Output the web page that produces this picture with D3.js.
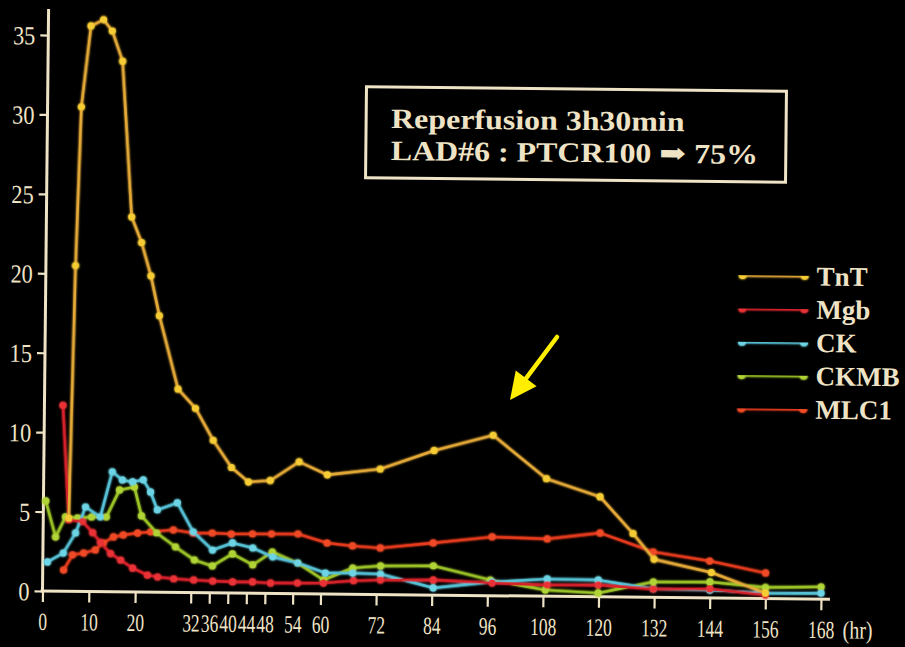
<!DOCTYPE html>
<html>
<head>
<meta charset="utf-8">
<script src="https://cdn.jsdelivr.net/npm/d3@7/dist/d3.min.js"></script>
<style>
  html, body { margin: 0; padding: 0; background: #000; }
  svg { display: block; }
</style>
</head>
<body>
<div id="chart"></div>
<script>
// Serum markers after reperfusion (hours after onset)
const tntHours  = [5.5, 6.4, 7.3, 9.2, 11.9, 13.8, 16.1, 18.4, 20.6, 22.7, 24.6, 28.8, 32.6, 36.5, 40.5, 44.2, 48.9, 55.1, 61.2, 72.6, 84.2, 96.9, 108.5, 120.1, 127.3, 131.9, 144.3, 156];
const tntValues = [4.6, 20.5, 30.5, 35.6, 36.0, 35.3, 33.4, 23.6, 22.0, 19.9, 17.4, 12.8, 11.6, 9.6, 7.9, 7.0, 7.1, 8.3, 7.5, 7.9, 9.1, 10.1, 7.4, 6.3, 4.0, 2.4, 1.6, 0.35];

const mgbHours  = [4.0, 5.5, 8.5, 10.7, 12.4, 14.6, 16.8, 19.4, 22.6, 24.8, 28.3, 32.6, 36.7, 41, 45.3, 49.2, 55, 60.6, 67.1, 72.9, 84.3, 97, 108.9, 119.9, 131.8, 144, 156];
const mgbValues = [11.7, 4.5, 4.4, 3.7, 3.1, 2.4, 2.0, 1.5, 1.07, 0.96, 0.85, 0.79, 0.74, 0.70, 0.71, 0.65, 0.67, 0.69, 0.85, 0.91, 0.95, 0.8, 0.71, 0.75, 0.53, 0.57, 0.23];

const ckHours  = [1.0, 4.4, 7.0, 9.1, 12.3, 14.8, 17.0, 19.2, 21.5, 23.1, 24.6, 28.9, 32.4, 36.6, 40.9, 45.3, 49.6, 55, 61, 66.9, 72.9, 84.3, 97, 108.9, 119.9, 131.8, 144, 156, 168];
const ckValues = [1.83, 2.4, 3.67, 5.32, 4.7, 7.55, 7.04, 6.93, 7.06, 6.3, 5.18, 5.64, 3.82, 2.69, 3.15, 2.85, 2.29, 1.93, 1.32, 1.33, 1.29, 0.45, 0.87, 1.09, 1.06, 0.53, 0.5, 0.33, 0.37];

const ckmbHours  = [0.5, 2.7, 4.8, 7.4, 10.4, 13.6, 16.4, 19.6, 21.2, 24.5, 28.6, 32.7, 36.6, 40.9, 45.3, 49.5, 55, 60.6, 66.9, 72.9, 84.3, 96.6, 108.5, 119.9, 131.8, 144, 156, 168];
const ckmbValues = [5.67, 3.41, 4.68, 4.62, 4.69, 4.7, 6.41, 6.61, 4.79, 3.73, 2.86, 2.05, 1.69, 2.46, 1.78, 2.61, 1.93, 0.88, 1.65, 1.8, 1.84, 0.99, 0.39, 0.24, 0.97, 1.01, 0.7, 0.77];

const mlcHours  = [4.5, 6.4, 8.8, 11.3, 13.0, 15.2, 17.3, 20.4, 23.2, 28.1, 32.4, 36.5, 40.6, 45.2, 49.3, 55, 61.3, 66.8, 72.8, 84.2, 96.9, 108.8, 120.2, 131.7, 143.9, 156];
const mlcValues = [1.33, 2.29, 2.42, 2.62, 3.06, 3.45, 3.58, 3.71, 3.79, 3.93, 3.75, 3.76, 3.71, 3.73, 3.74, 3.76, 3.21, 3.04, 2.93, 3.28, 3.70, 3.61, 4.02, 2.86, 2.33, 1.61];

const seriesNames = ["TnT", "Mgb", "CK", "CKMB", "MLC1"];
const xTickValues = [0, 10, 20, 32, 36, 40, 44, 48, 54, 60, 72, 84, 96, 108, 120, 132, 144, 156, 168];
const yTickValues = [0, 5, 10, 15, 20, 25, 30, 35];
const titleLines = ["Reperfusion 3h30min", "LAD#6 : PTCR100 \u27A1 75%"];

const styles = {
  TnT:  { line: "#e6aa38", dot: "#f6cc34" },
  Mgb:  { line: "#d8202c", dot: "#e83036" },
  CK:   { line: "#56c2d6", dot: "#6cd4e4" },
  CKMB: { line: "#9cc428", dot: "#b0d434" },
  MLC1: { line: "#e63a1e", dot: "#f04a26" }
};

const series = [
  { name: "TnT",  hours: tntHours,  values: tntValues },
  { name: "Mgb",  hours: mgbHours,  values: mgbValues },
  { name: "CK",   hours: ckHours,   values: ckValues },
  { name: "CKMB", hours: ckmbHours, values: ckmbValues },
  { name: "MLC1", hours: mlcHours,  values: mlcValues }
].map(s => ({ name: s.name, points: s.hours.map((h, i) => ({ h, v: s.values[i] })) }));

const W = 905, H = 647;
const ink = "#efe3c6";
const serif = "'Liberation Serif', 'DejaVu Serif', serif";

const svg = d3.select("#chart").append("svg")
  .attr("width", W).attr("height", H)
  .attr("viewBox", `0 0 ${W} ${H}`);

svg.append("rect").attr("width", W).attr("height", H).attr("fill", "#000");

// soft glow for the coloured traces
const defs = svg.append("defs");
const glow = defs.append("filter").attr("id", "glow")
  .attr("filterUnits", "userSpaceOnUse")
  .attr("x", 0).attr("y", 0).attr("width", W).attr("height", H);
glow.append("feGaussianBlur").attr("in", "SourceGraphic").attr("stdDeviation", 1.2).attr("result", "b");
const merge = glow.append("feMerge");
merge.append("feMergeNode").attr("in", "b");
merge.append("feMergeNode").attr("in", "SourceGraphic");

// the slide sits slightly tilted clockwise
const tilt = 0.6;
const ox = 42.5, oy = 591;

const x = d3.scaleLinear().domain([0, 168]).range([ox, 821]);
const y = d3.scaleLinear().domain([0, 35]).range([oy, 35]);

const plot = svg.append("g").attr("transform", `rotate(${tilt},${ox},${oy})`);

// axes
const xAxis = d3.axisBottom(x).tickValues(xTickValues).tickSize(11).tickPadding(4).tickFormat(d3.format("d"));
const gx = plot.append("g").attr("transform", `translate(0,${oy})`).call(xAxis);
gx.select(".domain").attr("d", `M${ox - 2},0H830`).attr("stroke", ink).attr("stroke-width", 3);
gx.selectAll(".tick line").attr("stroke", ink).attr("stroke-width", 2.2);
gx.selectAll(".tick text")
  .attr("fill", ink).attr("font-family", serif).attr("font-size", 25)
  .attr("y", 0).attr("dy", 0)
  .attr("transform", "translate(0,39) scale(0.7,1)");

plot.append("text")
  .attr("transform", `translate(843,630) scale(0.8,1)`)
  .attr("fill", ink).attr("font-family", serif).attr("font-size", 25)
  .text("(hr)");

const yAxis = d3.axisLeft(y).tickValues(yTickValues).tickSize(8).tickPadding(6).tickFormat(d3.format("d"));
const gy = plot.append("g").attr("transform", `translate(${ox},0)`).call(yAxis);
gy.select(".domain").attr("d", `M0,${oy + 1}V9`).attr("stroke", ink).attr("stroke-width", 3);
gy.selectAll(".tick line").attr("stroke", ink).attr("stroke-width", 2.2);
gy.selectAll(".tick text")
  .attr("fill", ink).attr("font-family", serif).attr("font-size", 26)
  .attr("x", 0).attr("dy", 0)
  .attr("transform", "translate(-13,9) scale(0.86,1)")
  .attr("text-anchor", "end");

// data lines
const line = d3.line().x(d => x(d.h)).y(d => y(d.v));
const drawOrder = ["MLC1", "CKMB", "CK", "Mgb", "TnT"];
const gSeries = plot.append("g").attr("filter", "url(#glow)");
drawOrder.forEach(name => {
  const s = series.find(d => d.name === name);
  const st = styles[name];
  const g = gSeries.append("g");
  g.append("path").datum(s.points)
    .attr("d", line).attr("fill", "none")
    .attr("stroke", st.line).attr("stroke-width", 2.6)
    .attr("stroke-linejoin", "round");
  g.selectAll("circle").data(s.points).join("circle")
    .attr("cx", d => x(d.h)).attr("cy", d => y(d.v))
    .attr("r", 3.6).attr("fill", st.dot);
});

// legend
const legend = svg.append("g").attr("transform", `rotate(${tilt},820,342)`);
const lg = legend.selectAll("g").data(seriesNames).join("g")
  .attr("transform", (d, i) => `translate(0,${276 + i * 33.3})`);
const lgMarks = lg.append("g").attr("filter", "url(#glow)");
lgMarks.append("line").attr("x1", 742).attr("x2", 804).attr("y1", 0).attr("y2", 0)
  .attr("stroke", d => styles[d].line).attr("stroke-width", 3);
lgMarks.selectAll("circle").data(d => [[742, d], [804, d]]).join("circle")
  .attr("cx", d => d[0]).attr("cy", 0).attr("r", 4)
  .attr("fill", d => styles[d[1]].dot);
lg.append("text").attr("x", 816).attr("y", 9.5)
  .attr("fill", ink).attr("font-family", serif).attr("font-weight", "bold")
  .attr("font-size", 27).text(d => d);

// annotation box
const box = svg.append("g").attr("transform", `rotate(${tilt},576,134.5)`);
box.append("rect").attr("x", 366).attr("y", 89).attr("width", 420).attr("height", 91)
  .attr("fill", "none").attr("stroke", ink).attr("stroke-width", 3);
box.selectAll("text").data(titleLines).join("text")
  .attr("transform", (d, i) => `translate(391,${130 + i * 32}) scale(1.14,1)`)
  .attr("fill", ink).attr("font-family", serif).attr("font-weight", "bold")
  .attr("font-size", 28)
  .text(d => d);

// pointer arrow
const tail = [557, 337], tip = [510, 400];
const dx = tip[0] - tail[0], dy = tip[1] - tail[1];
const len = Math.hypot(dx, dy), ux = dx / len, uy = dy / len;
const headLen = 27, headHalf = 13;
const base = [tip[0] - headLen * ux, tip[1] - headLen * uy];
svg.append("line")
  .attr("x1", tail[0]).attr("y1", tail[1]).attr("x2", base[0] + 2 * ux).attr("y2", base[1] + 2 * uy)
  .attr("stroke", "#ffee00").attr("stroke-width", 4.5).attr("stroke-linecap", "round");
svg.append("path")
  .attr("d", `M${tip[0]},${tip[1]}L${base[0] - headHalf * uy},${base[1] + headHalf * ux}L${base[0] + headHalf * uy},${base[1] - headHalf * ux}Z`)
  .attr("fill", "#ffee00");
</script>
</body>
</html>
